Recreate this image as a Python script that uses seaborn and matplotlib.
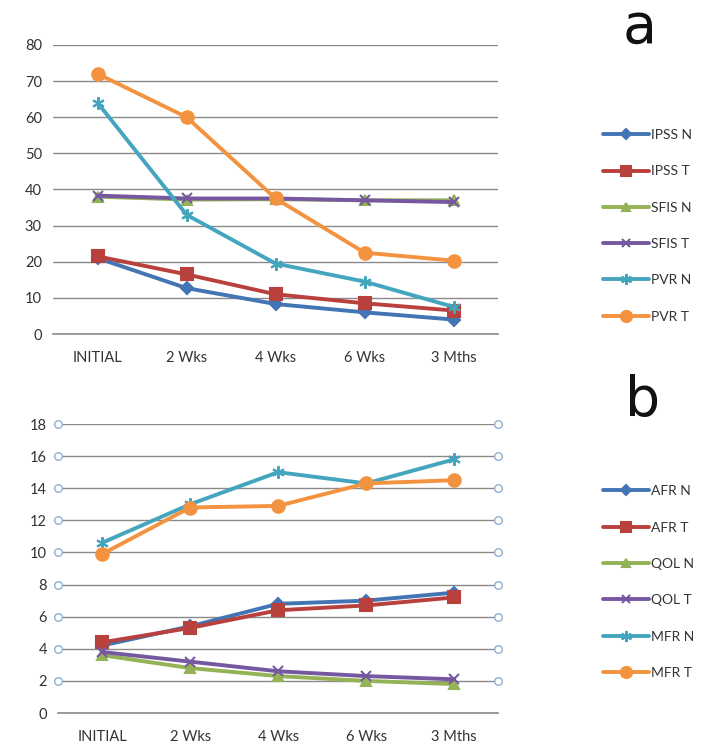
import matplotlib
matplotlib.use("Agg")
import matplotlib.pyplot as plt
import seaborn as sns
import pandas as pd
from matplotlib.lines import Line2D

categories = ["INITIAL", "2 Wks", "4 Wks", "6 Wks", "3 Mths"]

# Panel a
ipss_n = [21, 12.7, 8.3, 6.0, 4.0]
ipss_t = [21.5, 16.5, 11.0, 8.5, 6.5]
sfis_n = [38.0, 37.2, 37.3, 37.0, 37.0]
sfis_t = [38.3, 37.5, 37.5, 37.0, 36.5]
pvr_n = [64.0, 33.0, 19.5, 14.5, 7.5]
pvr_t = [72.0, 60.0, 37.5, 22.5, 20.3]

# Panel b
afr_n = [4.2, 5.4, 6.8, 7.0, 7.5]
afr_t = [4.4, 5.3, 6.4, 6.7, 7.2]
qol_n = [3.6, 2.8, 2.3, 2.0, 1.8]
qol_t = [3.8, 3.2, 2.6, 2.3, 2.1]
mfr_n = [10.6, 13.0, 15.0, 14.3, 15.8]
mfr_t = [9.9, 12.8, 12.9, 14.3, 14.5]

labels_a = ["IPSS N", "IPSS T", "SFIS N", "SFIS T", "PVR N", "PVR T"]
labels_b = ["AFR N", "AFR T", "QOL N", "QOL T", "MFR N", "MFR T"]
series_a = [ipss_n, ipss_t, sfis_n, sfis_t, pvr_n, pvr_t]
series_b = [afr_n, afr_t, qol_n, qol_t, mfr_n, mfr_t]

colors = ["#4374B3", "#B8403D", "#94B356", "#7558A0", "#44A6BE", "#F39340"]
markers = ["D", "s", "^", "x", (6, 2, 0), "o"]
msizes = [6, 8, 7, 7, 9, 9]

sns.set_theme(style="white")
plt.rcParams['font.family'] = ['Lato', 'DejaVu Sans']

fig = plt.figure(figsize=(7.2, 7.53), dpi=100)
ax1 = fig.add_axes([0.0736, 0.5564, 0.6184, 0.384])
ax2 = fig.add_axes([0.0806, 0.0531, 0.6114, 0.3838])

def draw(ax, labels, series, ymax, step, leg_x, leg_y):
    rows = []
    for lab, vals in zip(labels, series):
        for c, v in zip(categories, vals):
            rows.append({"cat": c, "val": v, "series": lab})
    df = pd.DataFrame(rows)
    for i, lab in enumerate(labels):
        sub = df[df["series"] == lab]
        sns.lineplot(data=sub, x="cat", y="val", ax=ax, color=colors[i],
                     marker=markers[i], markersize=msizes[i], linewidth=2.8,
                     markeredgecolor=colors[i], markeredgewidth=1.5,
                     sort=False, zorder=3 + i)
    ax.set_xlim(-0.5, 4.5)
    ax.set_ylim(0, ymax)
    ax.set_yticks(range(0, ymax + 1, step))
    ax.yaxis.grid(True, color="#8a8a8a", linewidth=1.0)
    ax.xaxis.grid(False)
    for s in ["left", "right", "top"]:
        ax.spines[s].set_visible(False)
    ax.spines["bottom"].set_color("#8a8a8a")
    ax.spines["bottom"].set_linewidth(1.2)
    ax.set_xlabel("")
    ax.set_ylabel("")
    ax.tick_params(axis="both", labelsize=10.5, colors="#333333", length=0)
    ax.tick_params(axis="x", pad=12)
    ax.tick_params(axis="y", pad=8)
    handles = [Line2D([0], [0], color=colors[i], marker=markers[i], markersize=msizes[i] - 1,
                      linewidth=2.8, markeredgecolor=colors[i], markeredgewidth=1.5)
               for i in range(len(labels))]
    ax.legend(handles, labels, loc="center left", bbox_to_anchor=(leg_x, leg_y), frameon=False,
              fontsize=10, labelspacing=1.75, handlelength=3.3, handletextpad=0.15,
              labelcolor="#333333", borderpad=0.2)

draw(ax1, labels_a, series_a, 80, 10, 1.214, 0.374)
draw(ax2, labels_b, series_b, 18, 2, 1.217, 0.453)

# small open circle markers at gridline ends in panel b
grid_vals = list(range(2, 19, 2))
ax2.scatter([-0.5] * len(grid_vals), grid_vals, s=30, facecolors="white",
            edgecolors="#8fb0d0", linewidths=1.0, clip_on=False, zorder=10)
ax2.scatter([4.5] * len(grid_vals), grid_vals, s=30, facecolors="white",
            edgecolors="#8fb0d0", linewidths=1.0, clip_on=False, zorder=10)

fig.text(0.889, 0.943, "a", fontsize=40, ha="center", va="baseline", color="#111111",
         family="DejaVu Sans")
fig.text(0.893, 0.447, "b", fontsize=40, ha="center", va="baseline", color="#111111",
         family="DejaVu Sans")

fig.savefig("out.png", dpi=100)
